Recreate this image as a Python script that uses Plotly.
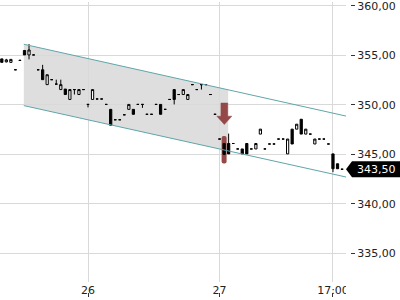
import numpy as np
import plotly.graph_objects as go

# ---- data ----
opens = [354.65, 354.35, 354.30, 353.55, 354.50, 355.50, 355.05, 355.05, 353.55, 353.55,
         352.05, 352.55, 352.10, 351.55, 351.60, 350.55, 351.55, 351.05, 351.55, 350.05,
         350.55, 350.60, 350.60, 350.05, 349.55, 348.50, 348.50, 349.00, 349.55, 349.55,
         350.05, 350.05, 349.05, 349.05, 350.05, 350.05, 349.55, 350.55, 351.55, 351.05,
         351.05, 350.55, 352.05, 351.55, 352.05, 352.05, 351.05, 349.05, 346.55, 346.10,
         346.10, 346.10, 345.55, 345.55, 346.10, 345.55, 345.55, 347.05, 345.55, 346.05,
         346.05, 346.55, 346.55, 345.05, 347.55, 347.55, 348.55, 347.05, 347.05, 346.05,
         346.55, 346.55, 346.05, 345.05, 344.05, 343.50]
highs = [354.65, 354.65, 354.60, 353.55, 354.50, 355.50, 356.15, 355.05, 353.55, 354.05,
         353.05, 352.55, 352.55, 352.55, 351.60, 351.55, 351.55, 351.55, 351.55, 350.05,
         351.55, 350.60, 350.60, 350.05, 349.55, 348.50, 348.50, 349.00, 350.05, 349.55,
         350.05, 350.05, 349.05, 349.05, 350.05, 350.05, 349.55, 350.55, 351.55, 351.05,
         351.55, 351.05, 352.05, 351.55, 352.05, 352.05, 351.05, 349.05, 346.55, 346.10,
         347.10, 346.10, 345.55, 345.55, 346.10, 345.55, 346.10, 347.55, 345.55, 346.05,
         346.05, 346.55, 346.55, 346.55, 347.55, 348.05, 348.55, 347.55, 347.05, 346.55,
         346.55, 346.55, 346.05, 345.05, 344.05, 343.50]
lows = [354.30, 354.30, 354.30, 353.55, 354.50, 355.05, 354.60, 355.05, 353.55, 352.55,
        352.05, 352.55, 352.10, 351.55, 351.05, 350.55, 351.05, 351.05, 351.55, 349.75,
        350.55, 350.60, 350.60, 350.05, 347.95, 348.50, 348.50, 349.00, 349.55, 349.05,
        350.05, 349.70, 349.05, 349.05, 350.05, 349.05, 349.55, 350.55, 350.05, 351.05,
        351.05, 350.55, 352.05, 351.55, 351.55, 352.05, 351.05, 349.05, 346.55, 345.00,
        345.05, 346.10, 345.55, 345.05, 345.05, 345.55, 345.55, 347.05, 345.55, 346.05,
        346.05, 346.55, 346.55, 345.05, 346.05, 347.55, 347.05, 347.05, 347.05, 346.05,
        346.55, 346.55, 346.05, 343.20, 343.55, 343.50]
closes = [354.30, 354.55, 354.60, 353.55, 354.50, 355.05, 355.55, 355.05, 353.55, 352.55,
          353.05, 352.55, 352.10, 352.05, 351.05, 351.55, 351.55, 351.55, 351.55, 350.05,
          351.55, 350.60, 350.60, 350.05, 347.95, 348.50, 348.50, 349.00, 350.05, 349.05,
          350.05, 350.05, 349.05, 349.05, 350.05, 349.05, 349.55, 350.55, 350.55, 351.05,
          351.55, 351.05, 352.05, 351.55, 352.05, 352.05, 351.05, 349.05, 346.55, 345.00,
          345.05, 346.10, 345.55, 345.05, 345.05, 345.55, 346.10, 347.55, 345.55, 346.05,
          346.05, 346.55, 346.55, 346.55, 346.05, 348.05, 347.05, 347.55, 347.05, 346.55,
          346.55, 346.55, 346.05, 343.55, 343.55, 343.50]
idx = list(range(len(opens)))

tick_idx = [19, 48, 73]
tick_text = ["26", "27", "17:00"]
y_ticks = [335, 340, 345, 350, 355, 360]

channel_x = [4.85, 76.0]
channel_upper = [356.13, 348.86]
channel_lower = [349.93, 342.70]
zone_end_x = 49.9

signal_x = 49.05
arrow_top, arrow_neck, arrow_tip = 350.19, 348.86, 348.02
signal_bar_x = 49
signal_bar_low, signal_bar_high = 344.07, 346.85

last_price = 343.50
last_price_text = "343,50"

# ---- styles ----
TEAL = "#5fa6a9"
RED = "#954848"
GRID = "#d9d9d9"
ZONE = "#dedede"
TXT = "#222222"
x_range = [-0.4, 75.87]
y_range = [332.09, 360.40]

fig = go.Figure()

# signal bar (behind candles)
fig.add_trace(go.Bar(x=[signal_bar_x], y=[signal_bar_high - signal_bar_low], base=[signal_bar_low],
                     width=1.1, marker=dict(color=RED, cornerradius=3, line=dict(width=0)),
                     hoverinfo="skip", showlegend=False))

fig.add_trace(go.Candlestick(
    x=idx, open=opens, high=highs, low=lows, close=closes,
    increasing=dict(line=dict(color="black", width=1), fillcolor="white"),
    decreasing=dict(line=dict(color="black", width=1), fillcolor="black"),
    whiskerwidth=0, showlegend=False))

# channel lines
fig.add_trace(go.Scatter(x=channel_x, y=channel_upper, mode="lines",
                         line=dict(color=TEAL, width=1), hoverinfo="skip", showlegend=False))
fig.add_trace(go.Scatter(x=channel_x, y=channel_lower, mode="lines",
                         line=dict(color=TEAL, width=1), hoverinfo="skip", showlegend=False))

# arrow
sw, hw = 0.75, 1.65
ax = [signal_x - sw, signal_x + sw, signal_x + sw, signal_x + hw, signal_x,
      signal_x - hw, signal_x - sw, signal_x - sw]
ay = [arrow_top, arrow_top, arrow_neck, arrow_neck, arrow_tip, arrow_neck, arrow_neck, arrow_top]
fig.add_trace(go.Scatter(x=ax, y=ay, mode="lines", fill="toself", fillcolor=RED,
                         line=dict(color=RED, width=0.5), hoverinfo="skip", showlegend=False))

# dummy trace for tick-mark axis
fig.add_trace(go.Scatter(x=[tick_idx[0]], y=[None], xaxis="x2", mode="markers",
                         showlegend=False, hoverinfo="skip"))

# shaded zone
zx0, zx1 = channel_x[0], zone_end_x
u0 = float(np.interp(zx0, channel_x, channel_upper))
u1 = float(np.interp(zx1, channel_x, channel_upper))
l0 = float(np.interp(zx0, channel_x, channel_lower))
l1 = float(np.interp(zx1, channel_x, channel_lower))
fig.add_shape(type="path", xref="x", yref="y", layer="below",
              path=f"M {zx0},{u0} L {zx1},{u1} L {zx1},{l1} L {zx0},{l0} Z",
              fillcolor=ZONE, line=dict(width=0))

# last price label
fig.add_shape(type="path", xref="x domain", yref="y", xsizemode="pixel", ysizemode="pixel",
              xanchor=1, yanchor=last_price, layer="above",
              path="M 0,0 L 6,8 L 60,8 L 60,-8 L 6,-8 Z",
              fillcolor="black", line=dict(width=0))
fig.add_annotation(x=1, xref="x domain", y=last_price, yref="y", text=last_price_text,
                   showarrow=False, xanchor="left", xshift=9,
                   font=dict(color="white", size=11, family="DejaVu Sans"))

# clip mask for x labels beyond plot area
fig.add_shape(type="rect", xref="x domain", yref="paper", x0=1, x1=1.3, y0=0, y1=0.055,
              fillcolor="white", line=dict(width=0), layer="above")

fig.update_layout(
    width=400, height=300, margin=dict(l=0, r=50, t=0, b=0),
    paper_bgcolor="white", plot_bgcolor="white", showlegend=False,
    separators=",.",
    font=dict(family="DejaVu Sans", size=11, color=TXT),
    xaxis=dict(domain=[0, 346 / 350], range=x_range, tickvals=tick_idx, ticktext=tick_text,
               showgrid=True, gridcolor=GRID, gridwidth=1, ticks="", showline=False,
               zeroline=False, rangeslider=dict(visible=False), ticklabeloverflow="allow"),
    xaxis2=dict(overlaying="x", anchor="free", position=0.01, range=x_range,
                tickvals=tick_idx, ticks="inside", ticklen=4, tickcolor="#333",
                showticklabels=False, showgrid=False, zeroline=False, showline=False),
    yaxis=dict(domain=[0.06, 1], range=y_range, anchor="free", position=1, side="right",
               tickvals=y_ticks, tickformat=".2f", ticks="outside", ticklen=4,
               tickcolor="#333", gridcolor=GRID, gridwidth=1, showline=False, zeroline=False,
               ticklabeloverflow="allow"),
)

fig.write_html("out.html")
